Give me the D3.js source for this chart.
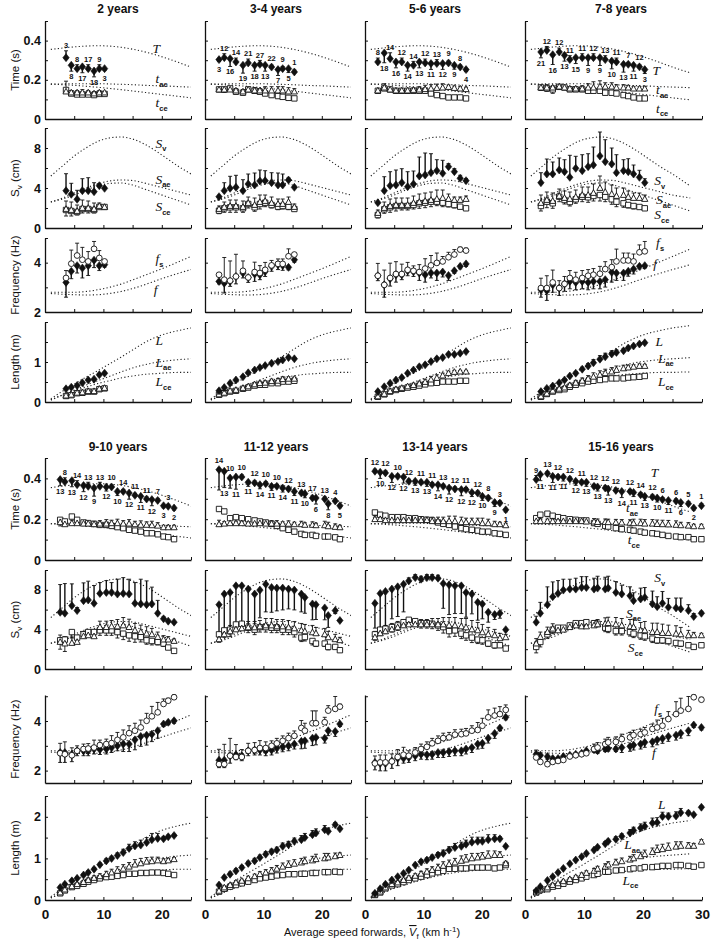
<!DOCTYPE html>
<html><head><meta charset="utf-8">
<script src="https://cdn.jsdelivr.net/npm/d3@7"></script>
<style>body{margin:0;background:#fff}</style>
</head><body><svg id="c" width="711" height="943"></svg>
<script>
// ---------------- DATA ----------------
const groupTitles = ["2 years","3-4 years","5-6 years","7-8 years","9-10 years","11-12 years","13-14 years","15-16 years"];
const xMaxByCol = [25,25,25,30];

// adult reference curves (dotted)
const refSpeed = [1,3,5,7,9,11,13,15,17,19,21,23,25,27,28];
const refT   = [0.355,0.362,0.368,0.372,0.374,0.372,0.366,0.356,0.343,0.327,0.308,0.287,0.265,0.245,0.236];
const refTae = [0.178,0.179,0.18,0.18,0.18,0.179,0.177,0.175,0.172,0.17,0.168,0.165,0.163,0.161,0.16];
const refTce = [0.178,0.175,0.172,0.167,0.162,0.156,0.15,0.143,0.136,0.129,0.122,0.115,0.108,0.101,0.098];
const refSv  = [5.2,6.2,7.2,8.0,8.65,9.0,9.1,8.9,8.4,7.7,6.9,6.1,5.4,4.6,4.2];
const refSae = [2.6,3.0,3.5,4.0,4.4,4.7,4.8,4.75,4.5,4.2,3.9,3.6,3.3,3.1,3.0];
const refSce = [2.6,2.9,3.3,3.8,4.2,4.45,4.5,4.3,3.9,3.5,3.1,2.7,2.3,1.9,1.7];
const refFs  = [2.8,2.8,2.8,2.83,2.9,3.0,3.13,3.3,3.48,3.66,3.85,4.05,4.25,4.45,4.55];
const refF   = [2.75,2.72,2.7,2.69,2.7,2.75,2.83,2.95,3.1,3.27,3.43,3.58,3.72,3.85,3.92];
const refL   = [0.08,0.27,0.45,0.62,0.78,0.95,1.12,1.3,1.48,1.62,1.72,1.79,1.85,1.89,1.91];
const refLae = [0.05,0.18,0.3,0.42,0.53,0.64,0.75,0.85,0.93,0.99,1.03,1.06,1.08,1.1,1.11];
const refLce = [0.05,0.17,0.28,0.37,0.46,0.53,0.6,0.65,0.69,0.71,0.73,0.74,0.74,0.75,0.75];

// per age group (index 0..7)
const speed = [
 [3.6,4.5,5.5,6.4,7.4,8.4,9.3,10.2],
 [2.4,3.3,4.3,5.3,6.5,7.4,8.5,9.4,10.3,11.4,12.5,13.3,14.3,15.3],
 [2.2,3.3,4.3,5.3,6.3,7.3,8.3,9.3,10.3,11.3,12.3,13.3,14.3,15.3,16.3,17.3],
 [2.7,3.7,4.7,5.8,6.7,7.6,8.6,9.7,10.7,11.6,12.7,13.6,14.7,15.5,16.7,17.5,18.4,19.4,20.3],
 [2.6,3.4,4.6,5.5,6.6,7.4,8.4,9.4,10.5,11.4,12.4,13.4,14.4,15.4,16.4,17.4,18.3,19.3,20.3,21.1,22.1],
 [2.4,3.3,4.3,5.3,6.3,7.4,8.5,9.4,10.4,11.4,12.3,13.3,14.3,15.3,16.5,17.1,18.4,19.0,20.5,21.1,22.3,23.1],
 [1.7,2.6,3.5,4.6,5.6,6.6,7.5,8.6,9.6,10.6,11.5,12.5,13.4,14.4,15.4,16.5,17.3,18.3,19.3,20.1,21.1,22.2,23.1,24.1],
 [1.9,2.6,3.8,4.7,5.6,6.5,7.6,8.6,9.6,10.4,11.7,12.3,13.6,14.1,15.4,16.4,17.8,18.4,19.6,20.3,21.6,22.4,23.3,24.3,25.6,26.4,27.7,28.6,29.9]
];
// stride time T (s), with signed SD bar and number of strides
const strideT = [
 [0.313,0.274,0.257,0.266,0.257,0.245,0.257,0.257],
 [0.303,0.313,0.308,0.291,0.274,0.286,0.274,0.279,0.274,0.265,0.252,0.257,0.257,0.24],
 [0.291,0.337,0.308,0.291,0.291,0.274,0.274,0.291,0.286,0.283,0.283,0.283,0.286,0.274,0.265,0.252],
 [0.342,0.35,0.328,0.342,0.325,0.303,0.313,0.313,0.313,0.313,0.313,0.303,0.296,0.291,0.279,0.279,0.274,0.266,0.252],
 [0.394,0.383,0.389,0.369,0.365,0.361,0.353,0.361,0.358,0.358,0.336,0.336,0.328,0.317,0.312,0.299,0.296,0.292,0.266,0.263,0.255],
 [0.443,0.435,0.402,0.407,0.407,0.381,0.378,0.369,0.374,0.361,0.361,0.353,0.348,0.336,0.328,0.325,0.304,0.304,0.299,0.276,0.289,0.266],
 [0.435,0.43,0.427,0.41,0.41,0.407,0.386,0.386,0.381,0.381,0.369,0.369,0.361,0.353,0.348,0.345,0.345,0.331,0.328,0.312,0.304,0.282,0.279,0.246],
 [0.394,0.419,0.424,0.41,0.407,0.407,0.397,0.386,0.381,0.381,0.361,0.358,0.353,0.348,0.341,0.336,0.336,0.331,0.32,0.312,0.309,0.304,0.296,0.292,0.289,0.282,0.276,0.255,0.266]
];
const errT = [
 [0.035,-0.03,0.02,-0.03,0.02,-0.03,0.02,-0.01],
 [-0.01,0.02,-0.04,0.02,-0.04,0.02,-0.03,0.02,-0.03,0.01,-0.03,0.01,-0.02,0.01],
 [0.02,-0.05,0.03,-0.03,0.02,-0.03,0.02,-0.03,0.02,-0.03,0.02,-0.03,0.01,-0.02,0.01,-0.01],
 [-0.03,0.02,-0.05,0.02,-0.03,0.02,-0.03,0.02,-0.04,0.02,-0.04,0.02,-0.04,0.02,-0.04,0.01,-0.03,0.01,-0.02],
 [-0.03,0.02,-0.03,0.02,-0.03,0.02,-0.04,0.02,-0.02,0.01,-0.02,0.01,-0.03,0.01,-0.03,0.01,-0.03,0.01,-0.01,0.01,-0.01],
 [-0.1,-0.08,-0.05,-0.06,0.01,-0.02,0.01,-0.02,0.01,-0.02,0.01,-0.02,0.01,-0.02,0.01,-0.02,0.01,-0.03,0.01,-0.03,0.01,-0.01],
 [0.01,-0.03,0.01,-0.03,0.01,-0.03,0.01,-0.02,0.01,-0.02,0.01,-0.03,0.01,-0.03,0.01,-0.03,0.01,-0.02,0.01,-0.02,0.01,-0.02,0.01,-0.01],
 [0.02,-0.03,0.01,-0.03,0.01,-0.02,0.01,-0.02,0.01,-0.02,0.01,-0.02,0.01,-0.03,0.01,-0.03,0.01,-0.02,0.01,-0.02,0.01,-0.02,0.01,-0.02,0.01,-0.02,0.01,-0.01,0.01]
];
const nStrides = [
 [3,8,8,17,17,18,9,3],
 [3,12,16,14,19,21,18,27,13,22,7,9,5,1],
 [8,18,14,16,12,14,14,13,12,11,13,12,9,9,8,4],
 [21,12,16,12,13,11,15,11,9,12,9,13,10,11,13,7,11,12,3],
 [13,8,13,14,12,13,9,13,12,10,10,14,12,11,11,11,12,7,3,3,2],
 [14,13,10,11,10,11,12,14,10,11,10,14,12,11,13,10,17,6,13,8,4,5],
 [12,10,12,12,10,12,12,13,11,13,11,14,13,12,12,12,11,12,12,10,8,9,3,1],
 [9,11,13,11,12,11,12,12,11,13,12,13,12,13,12,14,12,11,14,13,12,10,6,11,6,6,5,2,1]
];
const nFirstAbove = [1,-1,1,-1,-1,1,1,1];
// aerial time t_ae and contact time t_ce (s)
const tAe = [
 [0.14,0.135,0.135,0.135,0.135,0.13,0.135,0.135],
 [0.15,0.15,0.15,0.145,0.14,0.15,0.145,0.145,0.145,0.145,0.145,0.145,0.14,0.14],
 [0.145,0.16,0.15,0.145,0.145,0.145,0.148,0.15,0.152,0.155,0.158,0.16,0.163,0.158,0.155,0.152],
 [0.16,0.16,0.16,0.165,0.16,0.155,0.155,0.155,0.16,0.16,0.165,0.165,0.165,0.16,0.16,0.16,0.155,0.155,0.155],
 [0.185,0.175,0.18,0.18,0.178,0.178,0.175,0.178,0.178,0.18,0.18,0.178,0.178,0.175,0.172,0.172,0.17,0.168,0.16,0.16,0.16],
 [0.175,0.178,0.18,0.18,0.18,0.178,0.178,0.18,0.178,0.178,0.178,0.177,0.177,0.175,0.175,0.172,0.172,0.17,0.17,0.165,0.162,0.16],
 [0.2,0.2,0.195,0.195,0.195,0.195,0.195,0.195,0.195,0.195,0.19,0.19,0.19,0.19,0.19,0.185,0.185,0.185,0.185,0.18,0.18,0.175,0.175,0.17],
 [0.19,0.19,0.19,0.19,0.19,0.19,0.19,0.19,0.19,0.188,0.188,0.186,0.186,0.185,0.184,0.183,0.182,0.18,0.18,0.178,0.178,0.176,0.175,0.174,0.172,0.17,0.168,0.165,0.165]
];
const errTae = [
 [0.01,0.01,0.01,0.015,0.01,0.01,0.01,0.005],
 [0.01,0.01,0.015,0.01,0.01,0.01,0.015,0.01,0.02,0.02,0.02,0.02,0.02,0.015],
 [0.01,0.02,0.01,0.01,0.01,0.01,0.01,0.015,0.02,0.02,0.02,0.02,0.01,0.01,0.01,0.01],
 [0.01,0.015,0.01,0.01,0.01,0.01,0.01,0.015,0.02,0.03,0.03,0.02,0.02,0.015,0.015,0.01,0.01,0.01,0.01],
 [0.015,0.01,0.015,0.01,0.01,0.01,0.015,0.015,0.02,0.015,0.02,0.015,0.02,0.015,0.02,0.015,0.02,0.015,0.01,0.01,0.01],
 [0.02,0.01,0.015,0.01,0.01,0.01,0.01,0.01,0.015,0.015,0.015,0.01,0.015,0.01,0.015,0.01,0.015,0.01,0.02,0.02,0.015,0.01],
 [0.01,0.01,0.01,0.01,0.01,0.01,0.01,0.01,0.015,0.015,0.02,0.02,0.02,0.025,0.025,0.025,0.02,0.02,0.02,0.025,0.02,0.015,0.01,0.01],
 [0.01,0.01,0.01,0.01,0.01,0.01,0.01,0.01,0.01,0.01,0.015,0.015,0.015,0.015,0.015,0.015,0.015,0.02,0.02,0.02,0.02,0.02,0.02,0.02,0.02,0.015,0.015,0.01,0.01]
];
const tCe = [
 [0.148,0.13,0.125,0.125,0.125,0.122,0.128,0.128],
 [0.151,0.151,0.156,0.139,0.134,0.151,0.144,0.139,0.13,0.122,0.117,0.113,0.108,0.105],
 [0.144,0.156,0.151,0.144,0.144,0.144,0.144,0.144,0.144,0.13,0.122,0.117,0.11,0.11,0.11,0.105],
 [0.161,0.156,0.151,0.164,0.161,0.151,0.151,0.151,0.144,0.144,0.144,0.134,0.134,0.13,0.122,0.117,0.11,0.105,0.105],
 [0.197,0.189,0.213,0.197,0.184,0.181,0.177,0.172,0.172,0.167,0.161,0.156,0.148,0.144,0.139,0.131,0.131,0.126,0.115,0.112,0.102],
 [0.25,0.238,0.205,0.21,0.205,0.2,0.194,0.189,0.184,0.177,0.167,0.156,0.148,0.139,0.128,0.123,0.123,0.118,0.115,0.115,0.111,0.102],
 [0.233,0.222,0.217,0.21,0.21,0.21,0.205,0.205,0.2,0.197,0.194,0.184,0.177,0.172,0.164,0.156,0.151,0.148,0.144,0.139,0.139,0.131,0.128,0.123],
 [0.205,0.222,0.227,0.217,0.21,0.205,0.2,0.197,0.194,0.194,0.181,0.177,0.167,0.164,0.156,0.151,0.148,0.144,0.139,0.134,0.131,0.128,0.123,0.118,0.115,0.112,0.112,0.102,0.102]
];
const errTce = [
 [0.045,0.01,0.01,0.01,0.01,0.01,0.01,0.005],
 [-0.01,-0.015,-0.01,-0.01,-0.01,-0.01,-0.01,-0.01,-0.01,-0.01,-0.01,-0.01,-0.01,-0.005],
 [-0.01,-0.01,-0.01,-0.01,-0.01,-0.01,-0.01,-0.01,-0.01,-0.01,-0.01,-0.01,-0.005,-0.005,-0.005,-0.005],
 [-0.015,-0.015,-0.02,-0.01,-0.01,-0.01,-0.01,-0.01,-0.01,-0.01,-0.01,-0.01,-0.01,-0.01,-0.005,-0.005,-0.005,-0.005,-0.005],
 [-0.03,-0.02,-0.01,-0.01,-0.01,-0.01,-0.01,-0.01,-0.01,-0.01,-0.01,-0.01,-0.01,-0.01,-0.005,-0.005,-0.005,-0.005,-0.005,-0.005,-0.005],
 [-0.01,-0.01,-0.01,-0.01,-0.01,-0.01,-0.01,-0.01,-0.01,-0.01,-0.01,-0.01,-0.01,-0.005,-0.005,-0.005,-0.005,-0.005,-0.005,-0.005,-0.005,-0.005],
 [-0.015,-0.01,-0.01,-0.01,-0.01,-0.01,-0.01,-0.01,-0.01,-0.01,-0.01,-0.01,-0.01,-0.01,-0.01,-0.01,-0.01,-0.01,-0.005,-0.005,-0.005,-0.005,-0.005,-0.005],
 [-0.01,-0.02,-0.015,-0.01,-0.01,-0.01,-0.01,-0.01,-0.01,-0.01,-0.01,-0.01,-0.01,-0.01,-0.01,-0.01,-0.01,-0.01,-0.01,-0.005,-0.005,-0.005,-0.005,-0.005,-0.005,-0.005,-0.005,-0.005,-0.005]
];
// vertical displacement Sv (cm)
const sV = [
 [3.73,3.37,2.87,3.73,3.73,3.63,4.23,3.97],
 [3.13,3.73,3.97,4.07,3.73,4.4,4.3,4.7,4.73,4.53,4.3,4.3,4.8,4.07],
 [2.53,3.73,4.23,4.3,4.53,4.13,4.4,5.2,5.3,5.53,5.73,5.47,6.13,5.63,4.97,4.73],
 [4.53,5.4,5.4,5.8,5.63,5.07,5.97,5.73,6.13,6.3,7.2,6.63,6.4,5.53,5.73,5.63,5.4,5.07,4.53],
 [5.73,5.63,6.4,5.9,6.9,6.97,6.63,7.63,7.73,7.73,7.57,7.63,7.57,6.63,6.57,6.5,6.57,5.63,5.07,4.83,4.73],
 [6.5,7.57,7.73,8.4,8.4,8.07,7.57,7.97,8.57,8.23,8.17,8.17,8.07,7.97,7.57,7.23,6.57,6.5,6.17,5.4,5.9,4.9],
 [6.63,7.63,7.83,8.07,8.3,8.57,8.9,9.23,9.07,9.23,9.23,9.17,8.63,8.5,8.4,8.4,7.73,7.57,6.73,6.57,5.73,5.5,5.63,3.97],
 [4.73,5.63,6.5,7.3,7.63,7.97,8.07,8.07,8.23,8.23,8.07,8.17,8.07,8.17,7.73,7.57,7.4,6.9,7.07,7.23,6.57,6.3,6.63,6.23,6.17,6.07,5.9,5.3,5.63]
];
const errSv = [
 [1.7,1.1,0.9,1.2,1.3,0.9,0.2,0.1],
 [0,0.8,1.2,1.2,1.1,1.0,1.2,1.1,1.0,1.0,1.2,1.1,0.2,0],
 [0,1.4,1.4,1.5,1.4,1.5,1.3,1.9,2.2,1.9,1.1,1.3,0.3,0.3,0.3,0.2],
 [1.0,1.5,1.2,1.2,1.2,2.2,1.2,1.6,1.3,1.8,2.4,2.2,1.6,1.8,1.1,1.3,0.9,0.7,0.4],
 [2.8,3.0,2.2,0.3,1.8,1.9,1.8,1.1,1.2,1.0,1.5,1.6,1.5,2.1,2.5,2.4,1.7,1.3,0.2,0.1,0],
 [-3.3,-4,-4.2,-4.3,-4.3,-3.5,-3,-2.8,-2.8,-2.5,-2.3,-2.2,-2,-2,-1.8,-1.6,-1.6,-1.5,-1.2,-1.2,-0.3,0],
 [-2.5,-3.5,-3.5,-3.0,-3.0,-2.8,0.3,0.3,0.3,0.3,0.3,0.3,-2.5,-3.0,-2.8,-2.8,-2.5,-2.0,-1.8,-1.5,-1.0,-0.5,-0.5,0],
 [0.6,1.1,1.8,1.5,1.3,1.1,1.0,1.1,1.1,1.1,1.1,1.2,1.2,1.2,1.1,0.9,0.9,0.8,1.1,1.0,1.3,1.0,1.2,0.9,1.0,1.1,0.6,0.3,0.2]
];
const sAe = [
 [1.9,1.8,1.7,2.0,2.0,1.9,2.2,2.1],
 [1.9,2.1,2.2,2.2,2.1,2.5,2.3,2.6,2.7,2.5,2.4,2.4,2.6,2.1],
 [1.5,2.0,2.2,2.3,2.3,2.3,2.5,2.6,2.7,2.8,2.9,3.0,2.9,2.8,2.8,2.9],
 [2.5,2.8,2.7,3.2,3.0,2.9,3.1,3.3,3.3,3.5,4.0,3.6,3.4,3.2,3.3,3.1,3.0,3.0,2.9],
 [2.73,2.57,2.63,2.73,3.3,3.4,3.3,4.23,4.23,4.3,4.3,4.4,4.23,3.9,3.73,3.57,3.5,3.23,2.97,2.97,2.83],
 [3.0,3.5,3.8,4.0,4.1,4.2,4.2,4.3,4.4,4.4,4.3,4.3,4.2,4.1,3.9,3.8,3.7,3.6,3.5,3.2,3.0,2.9],
 [3.2,3.6,3.8,4.0,4.2,4.4,4.5,4.5,4.5,4.5,4.5,4.5,4.5,4.4,4.4,4.3,4.2,4.0,3.9,3.7,3.5,3.4,3.1,3.2],
 [2.57,3.23,3.73,4.07,3.9,3.97,4.23,4.4,4.3,4.3,4.4,4.5,4.57,4.63,4.5,4.4,4.3,4.23,3.9,3.9,3.73,3.73,3.63,3.63,3.57,3.5,3.4,3.4,3.4]
];
const errSae = [
 [0.8,0.8,0.6,0.8,0.7,0.6,0.3,0.1],
 [0.3,0.5,0.6,0.6,0.6,0.6,0.7,0.7,0.6,0.6,0.5,0.5,0.5,0.3],
 [0.3,0.6,0.7,0.7,0.7,0.7,0.7,0.8,0.8,0.8,0.9,0.8,0.5,0.3,0.3,0.3],
 [0.8,0.8,0.8,0.7,0.7,0.7,0.7,0.8,0.8,0.9,1.2,1.0,0.9,0.8,0.7,0.6,0.5,0.5,0.4],
 [0.7,0.7,0.6,0.5,0.5,0.5,0.5,0.6,0.6,0.6,0.7,0.8,0.8,0.7,0.7,0.7,0.6,0.5,0.4,0.3,0.2],
 [0.5,0.6,0.6,0.6,0.6,0.6,0.6,0.6,0.7,0.7,0.7,0.7,0.7,0.7,0.7,0.7,0.7,0.6,0.6,0.6,0.5,0.3],
 [0.6,0.6,0.6,0.6,0.6,0.6,0.5,0.5,0.5,0.5,0.6,0.6,0.7,0.8,0.8,0.8,0.9,0.9,0.8,0.8,0.7,0.6,0.5,0.3],
 [0.5,0.5,0.5,0.5,0.4,0.4,0.4,0.4,0.4,0.5,0.5,0.5,0.6,0.6,0.7,0.7,0.7,0.8,0.8,0.9,0.9,0.9,0.9,0.8,0.8,0.7,0.5,0.3,0.2]
];
const sCe = [
 [1.8,1.7,1.6,1.9,1.9,1.8,2.1,2.1],
 [1.73,1.97,2.07,2.07,1.97,2.4,2.07,2.4,2.53,2.3,2.13,2.2,2.13,1.9],
 [1.3,1.87,2.07,2.2,2.2,2.2,2.3,2.47,2.53,2.63,2.63,2.53,2.4,2.3,2.13,1.97],
 [2.2,2.63,2.47,3.13,2.8,2.6,2.87,3.13,3.07,3.2,3.3,3.13,2.87,2.63,2.47,2.3,2.2,2.1,1.97],
 [2.9,2.97,3.73,3.17,3.5,3.73,3.73,3.9,3.9,3.9,3.73,3.57,3.4,3.3,3.23,2.9,2.83,2.73,2.57,2.17,1.83],
 [3.5,3.9,3.97,4.5,4.57,4.17,3.97,4.23,4.23,4.17,4.17,3.97,3.97,3.73,3.17,3.23,2.83,2.57,2.57,2.23,2.23,1.9],
 [3.5,3.97,4.07,4.23,4.4,4.73,4.97,4.83,4.63,4.63,4.57,4.4,4.23,3.83,3.9,3.57,3.4,3.17,2.97,2.9,2.57,2.4,2.4,2.07],
 [2.23,2.73,3.5,3.97,4.17,4.17,4.4,4.63,4.63,4.73,4.63,4.57,4.17,4.07,3.83,3.83,3.73,3.57,3.4,3.3,3.07,2.9,2.9,2.83,2.63,2.57,2.4,2.23,2.4]
];
const errSce = [
 [-0.6,-0.5,-0.3,-0.4,-0.4,-0.3,-0.2,-0.1],
 [-0.3,-0.4,-0.5,-0.5,-0.4,-0.4,-0.4,-0.5,-0.4,-0.3,-0.3,-0.3,-0.3,-0.2],
 [-0.3,-0.4,-0.5,-0.5,-0.4,-0.4,-0.4,-0.5,-0.5,-0.5,-0.4,-0.4,-0.3,-0.3,-0.2,-0.2],
 [-0.5,-0.6,-0.5,-0.5,-0.4,-0.4,-0.4,-0.5,-0.5,-0.5,-0.6,-0.5,-0.5,-0.5,-0.4,-0.3,-0.3,-0.2,-0.2],
 [-0.9,-1.2,-0.6,-0.5,-0.4,-0.4,-0.4,-0.5,-0.5,-0.5,-0.6,-0.6,-0.6,-0.6,-0.5,-0.4,-0.4,-0.3,-0.3,-0.2,-0.1],
 [-0.8,-0.7,-0.7,-0.6,-0.6,-0.5,-0.5,-0.5,-0.5,-0.5,-0.5,-0.5,-0.5,-0.5,-0.4,-0.4,-0.4,-0.3,-0.3,-0.3,-0.2,-0.1],
 [-0.6,-0.6,-0.5,-0.5,-0.5,-0.5,-0.5,-0.5,-0.5,-0.5,-0.5,-0.5,-0.6,-0.6,-0.6,-0.5,-0.5,-0.5,-0.4,-0.4,-0.3,-0.3,-0.2,-0.1],
 [-0.6,-0.5,-0.4,-0.4,-0.3,-0.3,-0.3,-0.3,-0.3,-0.3,-0.3,-0.3,-0.4,-0.4,-0.4,-0.4,-0.4,-0.4,-0.4,-0.4,-0.4,-0.3,-0.3,-0.3,-0.3,-0.3,-0.2,-0.2,-0.1]
];
// stride frequency f and step frequency fs (Hz)
const freqS = [
 [3.38,3.96,4.29,4.12,4.05,4.56,4.19,4.05],
 [3.51,3.31,3.27,3.44,3.67,3.4,3.62,3.58,3.71,3.89,3.95,3.95,4.26,4.33],
 [3.47,3.1,3.38,3.54,3.54,3.71,3.67,3.62,3.76,3.89,3.99,4.05,4.22,4.33,4.53,4.49],
 [2.97,2.97,3.2,2.97,3.14,3.38,3.31,3.38,3.47,3.51,3.55,3.74,3.82,4.05,4.09,4.09,4.05,4.42,4.46],
 [2.7,2.66,2.62,2.8,2.87,2.89,2.93,3.03,3.07,3.11,3.24,3.34,3.51,3.61,3.74,4.01,4.19,4.35,4.69,4.82,4.96],
 [2.26,2.26,2.6,2.55,2.55,2.8,2.83,2.91,2.91,3.0,3.1,3.2,3.31,3.4,3.72,3.61,3.91,3.91,3.95,4.42,4.49,4.58],
 [2.29,2.33,2.33,2.37,2.55,2.64,2.6,2.73,2.87,2.96,3.1,3.2,3.31,3.34,3.45,3.47,3.5,3.61,3.64,3.81,4.15,4.22,4.28,4.45],
 [2.53,2.35,2.26,2.35,2.39,2.43,2.57,2.62,2.66,2.7,2.87,2.93,3.07,3.14,3.16,3.27,3.34,3.43,3.47,3.54,3.68,3.74,3.81,4.08,4.28,4.42,4.49,4.96,4.86]
];
const errFreqS = [
 [0.3,0.55,0.5,0.5,0.4,0.3,0.3,0.05],
 [0.05,0.9,0.8,0.9,0.4,0.05,0.4,0.3,0.3,0.2,0.2,0.2,0.3,0.05],
 [0.5,0.6,0.6,0.5,0.4,0.3,0.2,0.3,0.4,0.4,0.4,0.2,0.2,0.2,0.1,0.1],
 [0.4,0.5,0.5,0.3,0.3,0.3,0.3,0.3,0.25,0.25,0.3,0.3,0.3,0.5,0.3,0.3,0.3,0.3,0.4],
 [0.4,0.5,0.3,0.2,0.2,0.2,0.3,0.2,0.2,0.3,0.3,0.3,0.3,0.3,0.3,0.3,0.4,0.4,0.2,0.1,0.1],
 [0.6,0.8,0.7,0.5,0.3,0.3,0.3,0.3,0.25,0.2,0.2,0.2,0.2,0.2,0.3,0.3,0.5,0.5,0.2,0.2,0.5,0.1],
 [0.3,0.3,0.3,0.3,0.3,0.3,0.2,0.2,0.2,0.2,0.2,0.2,0.2,0.2,0.2,0.2,0.2,0.2,0.3,0.3,0.3,0.3,0.3,0.2],
 [0.3,0.2,0.2,0.1,0.1,0.1,0.1,0.1,0.1,0.1,0.2,0.2,0.2,0.2,0.2,0.2,0.2,0.2,0.2,0.2,0.2,0.3,0.3,0.3,0.5,0.5,0.5,0.1,0.1]
];
const freq = [
 [3.2,3.65,3.88,3.78,3.88,4.1,3.88,3.92],
 [3.24,3.17,3.24,3.44,3.58,3.4,3.54,3.51,3.64,3.85,3.92,3.89,3.81,4.12],
 [3.47,3.1,3.35,3.51,3.51,3.67,3.64,3.58,3.51,3.58,3.58,3.62,3.48,3.67,3.85,3.95],
 [2.9,2.87,3.1,2.97,3.14,3.24,3.2,3.24,3.2,3.24,3.24,3.31,3.61,3.58,3.58,3.65,3.74,3.85,3.88],
 [2.73,2.73,2.66,2.8,2.8,2.8,2.87,2.85,2.87,2.93,3.0,3.07,3.07,3.24,3.38,3.43,3.47,3.61,3.88,3.95,4.01],
 [2.42,2.42,2.6,2.64,2.6,2.8,2.83,2.83,2.8,2.83,2.91,2.96,3.0,3.07,3.18,3.2,3.31,3.34,3.31,3.61,3.58,3.88],
 [2.33,2.29,2.29,2.39,2.5,2.5,2.53,2.6,2.66,2.64,2.66,2.73,2.73,2.77,2.8,2.8,2.87,2.93,3.07,3.1,3.31,3.5,3.72,4.15],
 [2.66,2.62,2.57,2.49,2.49,2.57,2.62,2.66,2.7,2.8,2.84,2.8,2.87,2.89,2.87,2.93,2.98,3.03,3.07,3.14,3.16,3.24,3.3,3.38,3.43,3.51,3.61,3.84,3.74]
];
const errFreq = [
 [-0.6,-0.3,-0.3,-0.4,-0.4,-0.3,-0.2,-0.1],
 [-0.1,-0.4,-0.2,-0.3,-0.2,-0.2,-0.3,-0.2,-0.2,-0.2,-0.2,-0.2,-0.1,-0.1],
 [-0.2,-0.5,-0.3,-0.3,-0.2,-0.2,-0.2,-0.3,-0.3,-0.2,-0.3,-0.2,-0.2,-0.1,-0.1,-0.1],
 [-0.3,-0.4,-0.3,-0.3,-0.3,-0.3,-0.3,-0.3,-0.3,-0.3,-0.3,-0.3,-0.4,-0.3,-0.3,-0.2,-0.2,-0.1,-0.1],
 [-0.4,-0.4,-0.3,-0.2,-0.2,-0.2,-0.2,-0.2,-0.2,-0.2,-0.2,-0.3,-0.3,-0.4,-0.4,-0.4,-0.3,-0.3,-0.1,-0.1,-0.1],
 [-0.3,-0.3,-0.3,-0.2,-0.2,-0.2,-0.2,-0.2,-0.2,-0.2,-0.2,-0.2,-0.2,-0.2,-0.3,-0.3,-0.3,-0.3,-0.2,-0.2,-0.2,-0.1],
 [-0.3,-0.3,-0.3,-0.3,-0.3,-0.2,-0.2,-0.2,-0.2,-0.2,-0.2,-0.2,-0.2,-0.2,-0.2,-0.2,-0.2,-0.2,-0.2,-0.2,-0.2,-0.2,-0.1,-0.1],
 [-0.2,-0.2,-0.2,-0.1,-0.1,-0.1,-0.1,-0.1,-0.1,-0.1,-0.1,-0.1,-0.1,-0.1,-0.1,-0.2,-0.2,-0.2,-0.2,-0.2,-0.2,-0.2,-0.2,-0.2,-0.2,-0.2,-0.2,-0.1,-0.1]
];
// stride length L, aerial length Lae and contact length Lce (m)
const lenL = [
 [0.33,0.37,0.41,0.48,0.55,0.57,0.68,0.72],
 [0.28,0.36,0.47,0.55,0.63,0.73,0.8,0.86,0.91,0.97,1.01,1.05,1.11,1.08],
 [0.26,0.38,0.47,0.55,0.61,0.72,0.8,0.88,0.93,1.01,1.08,1.11,1.19,1.19,1.22,1.26],
 [0.26,0.34,0.4,0.48,0.55,0.65,0.72,0.82,0.9,0.98,1.07,1.13,1.2,1.24,1.28,1.35,1.4,1.45,1.48],
 [0.3,0.38,0.46,0.52,0.6,0.66,0.74,0.85,0.94,1.0,1.07,1.14,1.24,1.3,1.32,1.38,1.45,1.48,1.47,1.52,1.55],
 [0.36,0.54,0.62,0.7,0.78,0.88,0.94,1.02,1.1,1.16,1.2,1.29,1.33,1.41,1.45,1.5,1.57,1.61,1.69,1.65,1.81,1.71],
 [0.16,0.27,0.38,0.48,0.56,0.64,0.72,0.84,0.92,0.96,1.02,1.08,1.12,1.2,1.26,1.29,1.34,1.39,1.41,1.41,1.45,1.47,1.47,1.29],
 [0.22,0.32,0.47,0.56,0.66,0.76,0.87,0.96,1.04,1.12,1.2,1.27,1.35,1.41,1.46,1.53,1.61,1.67,1.73,1.77,1.85,1.86,2.01,2.01,2.02,2.1,2.09,2.05,2.23]
];
const errL = [
 [0.03,0.02,0.03,0.02,0.03,0.02,0.03,0.02],
 [0.03,0.02,0.03,0.02,0.03,0.02,0.03,0.02,0.03,0.02,0.03,0.02,0.03,0.02],
 [0.03,0.02,0.03,0.02,0.03,0.02,0.03,0.04,0.04,0.04,0.04,0.03,0.03,0.02,0.02,0.02],
 [0.03,0.03,0.03,0.03,0.03,0.03,0.04,0.05,0.06,0.08,0.09,0.09,0.08,0.06,0.05,0.04,0.03,0.03,0.03],
 [0.03,0.03,0.03,0.03,0.03,0.04,0.04,0.04,0.05,0.05,0.06,0.08,0.1,0.1,0.12,0.12,0.15,0.12,0.05,0.04,0.03],
 [0.03,0.03,0.05,0.05,0.05,0.05,0.06,0.06,0.06,0.06,0.07,0.08,0.08,0.08,0.1,0.1,0.1,0.1,0.1,0.08,0.05,0.03],
 [0.03,0.03,0.03,0.03,0.03,0.03,0.04,0.04,0.05,0.05,0.06,0.06,0.08,0.08,0.1,0.1,0.1,0.12,0.1,0.1,0.12,0.1,0.05,0.03],
 [0.03,0.03,0.03,0.03,0.03,0.03,0.03,0.03,0.03,0.03,0.03,0.03,0.05,0.05,0.06,0.06,0.08,0.08,0.1,0.1,0.12,0.12,0.1,0.08,0.1,0.1,0.05,0.03,0.03]
];
const lenAe = [
 [0.16,0.18,0.23,0.24,0.27,0.27,0.33,0.35],
 [0.19,0.23,0.28,0.3,0.35,0.39,0.44,0.47,0.48,0.52,0.53,0.57,0.58,0.58],
 [0.14,0.2,0.27,0.32,0.35,0.39,0.42,0.46,0.5,0.56,0.6,0.66,0.72,0.75,0.76,0.76],
 [0.14,0.21,0.28,0.33,0.36,0.42,0.48,0.53,0.58,0.63,0.68,0.72,0.76,0.8,0.84,0.86,0.88,0.9,0.9],
 [0.18,0.25,0.33,0.38,0.43,0.48,0.53,0.57,0.62,0.66,0.7,0.75,0.8,0.85,0.88,0.92,0.93,0.95,0.93,0.95,0.98],
 [0.22,0.3,0.36,0.42,0.46,0.52,0.57,0.62,0.66,0.7,0.75,0.8,0.84,0.87,0.9,0.93,0.95,0.98,1.0,1.02,1.05,1.08],
 [0.13,0.2,0.3,0.38,0.42,0.48,0.53,0.58,0.63,0.68,0.72,0.77,0.82,0.86,0.9,0.94,0.97,1.0,1.02,1.04,1.06,1.08,1.08,0.88],
 [0.2,0.27,0.3,0.36,0.4,0.45,0.5,0.55,0.6,0.65,0.7,0.75,0.8,0.85,0.9,0.93,0.97,1.0,1.05,1.1,1.15,1.2,1.22,1.25,1.28,1.3,1.3,1.3,1.4]
];
const errLae = [
 [0.02,0.02,0.03,0.02,0.03,0.02,0.03,0.02],
 [0.02,0.02,0.03,0.03,0.03,0.03,0.04,0.05,0.05,0.05,0.06,0.06,0.05,0.04],
 [0.02,0.02,0.03,0.03,0.03,0.04,0.05,0.06,0.07,0.08,0.08,0.06,0.05,0.04,0.03,0.03],
 [0.02,0.02,0.03,0.03,0.04,0.05,0.06,0.07,0.08,0.1,0.1,0.1,0.1,0.1,0.08,0.06,0.05,0.05,0.04],
 [0.02,0.02,0.03,0.03,0.04,0.05,0.05,0.06,0.07,0.08,0.1,0.1,0.1,0.12,0.12,0.1,0.1,0.08,0.06,0.05,0.04],
 [0.02,0.03,0.03,0.04,0.04,0.05,0.05,0.06,0.07,0.08,0.08,0.09,0.1,0.1,0.1,0.1,0.1,0.12,0.12,0.1,0.08,0.05],
 [0.02,0.02,0.03,0.03,0.04,0.04,0.05,0.05,0.06,0.07,0.08,0.09,0.1,0.1,0.1,0.12,0.12,0.12,0.1,0.1,0.12,0.1,0.08,0.05],
 [0.02,0.02,0.02,0.03,0.03,0.03,0.04,0.04,0.05,0.05,0.06,0.06,0.07,0.07,0.08,0.08,0.08,0.09,0.1,0.1,0.1,0.12,0.12,0.12,0.12,0.1,0.08,0.06,0.05]
];
const lenCe = [
 [0.15,0.17,0.22,0.23,0.26,0.26,0.32,0.34],
 [0.18,0.22,0.26,0.28,0.33,0.36,0.41,0.43,0.43,0.47,0.47,0.51,0.51,0.53],
 [0.13,0.19,0.26,0.3,0.33,0.36,0.38,0.41,0.44,0.47,0.48,0.51,0.51,0.51,0.53,0.53],
 [0.13,0.2,0.26,0.3,0.32,0.38,0.43,0.47,0.51,0.53,0.55,0.57,0.59,0.59,0.59,0.61,0.62,0.63,0.65],
 [0.16,0.23,0.31,0.34,0.39,0.44,0.48,0.52,0.55,0.56,0.58,0.6,0.63,0.63,0.65,0.65,0.66,0.66,0.65,0.63,0.6],
 [0.2,0.27,0.32,0.36,0.4,0.44,0.48,0.52,0.54,0.56,0.59,0.6,0.62,0.62,0.63,0.63,0.65,0.65,0.67,0.67,0.68,0.67],
 [0.12,0.18,0.28,0.35,0.38,0.43,0.48,0.52,0.56,0.6,0.64,0.67,0.7,0.75,0.75,0.76,0.76,0.78,0.78,0.78,0.78,0.76,0.78,0.84],
 [0.18,0.24,0.26,0.32,0.34,0.39,0.44,0.48,0.52,0.56,0.6,0.63,0.68,0.68,0.71,0.72,0.74,0.76,0.76,0.79,0.79,0.8,0.82,0.82,0.84,0.84,0.82,0.8,0.84]
];

// ---------------- LAYOUT ----------------
const colX = [[45,191],[205,351],[365,511],[525,702]];
const titleX = [118,276,435,621];
const bands = [
  {titleY:13, rows:[{y:[119,21],d:[0,0.5]},{y:[228,128],d:[0,10]},{y:[312,238],d:[2,5]},{y:[402,322],d:[0,2]}]},
  {titleY:451, rows:[{y:[560,458],d:[0,0.5]},{y:[669,570],d:[0,10]},{y:[783,695],d:[1.5,5.05]},{y:[900,796],d:[0,2.5]}]}
];
const rowTicks = [
  {all:[0,0.1,0.2,0.3,0.4,0.5], lab:[0,0.2,0.4]},
  {all:[0,2,4,6,8,10], lab:[0,4,8]},
  {all:[2,3,4,5], lab:[2,4]},
  null
];
const yTitles = ["Time (s)", "SV", "Frequency (Hz)", "Length (m)"];

// curve labels: [group,row,main,sub,speed,value]
const curveLabels = [
 [0,0,"T","",19.1,0.359],[0,0,"t","ae",19.6,0.205],[0,0,"t","ce",19.6,0.083],
 [0,1,"S","v",19.6,8.47],[0,1,"S","ae",19.6,4.9],[0,1,"S","ce",19.6,2.13],
 [0,2,"f","s",19.6,4.15],[0,2,"f","",19.3,2.9],
 [0,3,"L","",19.6,1.55],[0,3,"L","ae",19.6,1.0],[0,3,"L","ce",19.6,0.51],
 [3,0,"T","",22.3,0.245],[3,0,"t","ae",22.9,0.15],[3,0,"t","ce",22.9,0.054],
 [3,1,"S","v",22.6,4.75],[3,1,"S","ae",22.9,2.85],[3,1,"S","ce",22.6,1.35],
 [3,2,"f","s",22.9,4.8],[3,2,"f","",22.4,3.96],
 [3,3,"L","",22.8,1.51],[3,3,"L","ae",23.2,1.09],[3,3,"L","ce",23.2,0.51],
 [7,0,"T","",22.0,0.43],[7,0,"t","ae",17.8,0.255],[7,0,"t","ce",18.1,0.1],
 [7,1,"S","v",22.6,9.23],[7,1,"S","ae",17.8,5.63],[7,1,"S","ce",18.1,2.17],
 [7,2,"f","s",22.6,4.49],[7,2,"f","",22.2,2.73],
 [7,3,"L","",23.2,2.29],[7,3,"L","ae",17.5,1.33],[7,3,"L","ce",17.2,0.48]
];

const svg = d3.select("#c");
const SANS = "'Liberation Sans', Arial, Helvetica, sans-serif";
const SERIF = "'Liberation Serif', 'Times New Roman', serif";
const defs = svg.append("defs");

const shapes = {
  diamond: "M0,-4L3.2,0L0,4L-3.2,0Z",
  square: "M-2.7,-2.7H2.7V2.7H-2.7Z",
  triangle: "M0,-3.3L3.1,2.4H-3.1Z",
  circle: d3.symbol().type(d3.symbolCircle).size(26)()
};

for (let g = 0; g < 8; g++) {
  const col = g % 4, band = bands[g < 4 ? 0 : 1];
  const x = d3.scaleLinear().domain([0, xMaxByCol[col]]).range(colX[col]);
  svg.append("text").attr("x", titleX[col]).attr("y", band.titleY).attr("text-anchor","middle")
    .attr("font-family", SANS).attr("font-size", 12).attr("font-weight","bold").attr("fill","#111")
    .text(groupTitles[g]);

  band.rows.forEach((row, r) => {
    const y = d3.scaleLinear().domain(row.d).range(row.y);
    const gp = svg.append("g");
    const cid = "clip" + g + "_" + r;
    defs.append("clipPath").attr("id", cid).append("rect")
      .attr("x", colX[col][0]).attr("y", row.y[1]).attr("width", colX[col][1]-colX[col][0]).attr("height", row.y[0]-row.y[1]);

    let tk = rowTicks[r];
    if (r === 3) tk = g < 4 ? {all:[0,0.5,1,1.5,2], lab:[0,1]} : {all:[0,0.5,1,1.5,2,2.5], lab:[0,1,2]};
    const ya = d3.axisLeft(y).tickValues(tk.all).tickSize(-3).tickSizeOuter(0).tickPadding(4)
      .tickFormat(v => (col === 0 && tk.lab.includes(v)) ? String(v) : "");
    const yg = gp.append("g").attr("transform", `translate(${colX[col][0]},0)`).call(ya);
    const xt = d3.range(0, xMaxByCol[col] + 0.01, 5);
    const xa = d3.axisBottom(x).tickValues(xt).tickSize(-3).tickSizeOuter(0).tickPadding(9)
      .tickFormat(v => (g >= 4 && r === 3 && v % 10 === 0) ? String(v) : "");
    const xg = gp.append("g").attr("transform", `translate(0,${row.y[0]})`).call(xa);
    [yg, xg].forEach(a => {
      a.selectAll("path.domain").attr("stroke", "#111").attr("stroke-width", 1.3);
      a.selectAll(".tick line").attr("stroke", "#111").attr("stroke-width", 1);
      a.selectAll("text").attr("font-family", SANS).attr("font-weight", "bold").attr("fill", "#111");
    });
    yg.selectAll("text").attr("font-size", 12.5);
    xg.selectAll("text").attr("font-size", 13.5);

    if (col === 0) {
      const cy = (row.y[0] + row.y[1]) / 2;
      const t = svg.append("text").attr("transform", `translate(19,${cy}) rotate(-90)`).attr("text-anchor","middle")
        .attr("font-family", SANS).attr("font-size", 11.5).attr("fill","#111");
      if (r === 1) {
        t.append("tspan").text("S");
        t.append("tspan").attr("font-size", 8).attr("dy", 3).text("v");
        t.append("tspan").attr("dy", -3).text(" (cm)");
      } else t.text(yTitles[r]);
    }

    // reference dotted curves
    const refs = [[refT,refTae,refTce],[refSv,refSae,refSce],[refFs,refF],[refL,refLae,refLce]][r];
    const line = d3.line().x(d => x(d[0])).y(d => y(d[1])).curve(d3.curveMonotoneX);
    const clipG = gp.append("g").attr("clip-path", `url(#${cid})`);
    refs.forEach(arr => {
      const pts = refSpeed.map((s, i) => [s, arr[i]]);
      clipG.append("path").attr("d", line(pts)).attr("fill","none").attr("stroke","#222")
        .attr("stroke-width", 1.1).attr("stroke-dasharray", "1.2,2.3");
    });

    const sp = speed[g];
    let series;
    if (r === 0) series = [
      {v: tCe[g], e: errTce[g], shape:"square"},
      {v: tAe[g], e: errTae[g], shape:"triangle"},
      {v: strideT[g], e: errT[g], shape:"diamond", n: nStrides[g]}];
    else if (r === 1) series = [
      {v: sCe[g], e: errSce[g], shape:"square"},
      {v: sAe[g], e: errSae[g], shape:"triangle"},
      {v: sV[g], e: errSv[g], shape:"diamond"}];
    else if (r === 2) series = [
      {v: freq[g], e: errFreq[g], shape:"diamond"},
      {v: freqS[g], e: errFreqS[g], shape:"circle"}];
    else series = [
      {v: lenCe[g], e: null, shape:"square"},
      {v: lenAe[g], e: errLae[g], shape:"triangle"},
      {v: lenL[g], e: errL[g], shape:"diamond"}];

    series.forEach(s => {
      if (!s.e) return;
      sp.forEach((sv, i) => {
        const val = s.v[i], err = s.e[i];
        if (val === undefined || !err) return;
        const x0 = x(sv), y0 = y(val), y1 = y(val + err);
        const w = s.shape === "diamond" ? 1.4 : 0.9;
        gp.append("line").attr("x1", x0).attr("x2", x0).attr("y1", y0).attr("y2", y1)
          .attr("stroke","#111").attr("stroke-width", w);
        gp.append("line").attr("x1", x0-2).attr("x2", x0+2).attr("y1", y1).attr("y2", y1)
          .attr("stroke","#111").attr("stroke-width", 0.9);
      });
    });
    series.forEach(s => {
      gp.selectAll(null).data(sp.map((sv, i) => [sv, s.v[i]]).filter(d => d[1] !== undefined))
        .enter().append("path")
        .attr("transform", d => `translate(${x(d[0])},${y(d[1])})`)
        .attr("d", shapes[s.shape])
        .attr("fill", s.shape === "diamond" ? "#111" : "#fff")
        .attr("stroke", "#111").attr("stroke-width", s.shape === "diamond" ? 0.6 : 0.9);
    });
    const ts = series.find(s => s.n);
    if (ts) {
      sp.forEach((sv, i) => {
        const val = ts.v[i], err = ts.e[i] || 0;
        const above = (i % 2 === 0) === (nFirstAbove[g] === 1);
        const yv = y(val), ye = y(val + err);
        const yy = above ? Math.min(yv - 4, ye) - 2.5 : Math.max(yv + 4, ye) + 8;
        gp.append("text").attr("x", x(sv)).attr("y", yy).attr("text-anchor","middle")
          .attr("font-family", SANS).attr("font-size", 7.5).attr("font-weight","bold").attr("fill","#111")
          .text(ts.n[i]);
      });
    }
    curveLabels.filter(c => c[0] === g && c[1] === r).forEach(c => {
      const t = gp.append("text").attr("x", x(c[4]) - 4).attr("y", y(c[5]) + 4.5)
        .attr("fill", "#111");
      t.append("tspan").attr("font-family", SERIF).attr("font-style","italic").attr("font-size", 13.5).text(c[2]);
      if (c[3]) t.append("tspan").attr("font-family", SANS).attr("font-weight","bold").attr("font-size", 7.5).attr("dy", 3.5).text(c[3]);
    });
  });
}

// x axis title
const xtt = svg.append("text").attr("x", 372).attr("y", 936).attr("text-anchor","middle")
  .attr("font-family", SANS).attr("font-size", 11).attr("fill","#111");
xtt.append("tspan").text("Average speed forwards, ");
xtt.append("tspan").attr("font-style","italic").attr("text-decoration","overline").text("V");
xtt.append("tspan").attr("font-size", 8).attr("dy", 3).text("f");
xtt.append("tspan").attr("dy", -3).text(" (km h");
xtt.append("tspan").attr("font-size", 8).attr("dy", -4).text("-1");
xtt.append("tspan").attr("dy", 4).text(")");
</script>
</body></html>
